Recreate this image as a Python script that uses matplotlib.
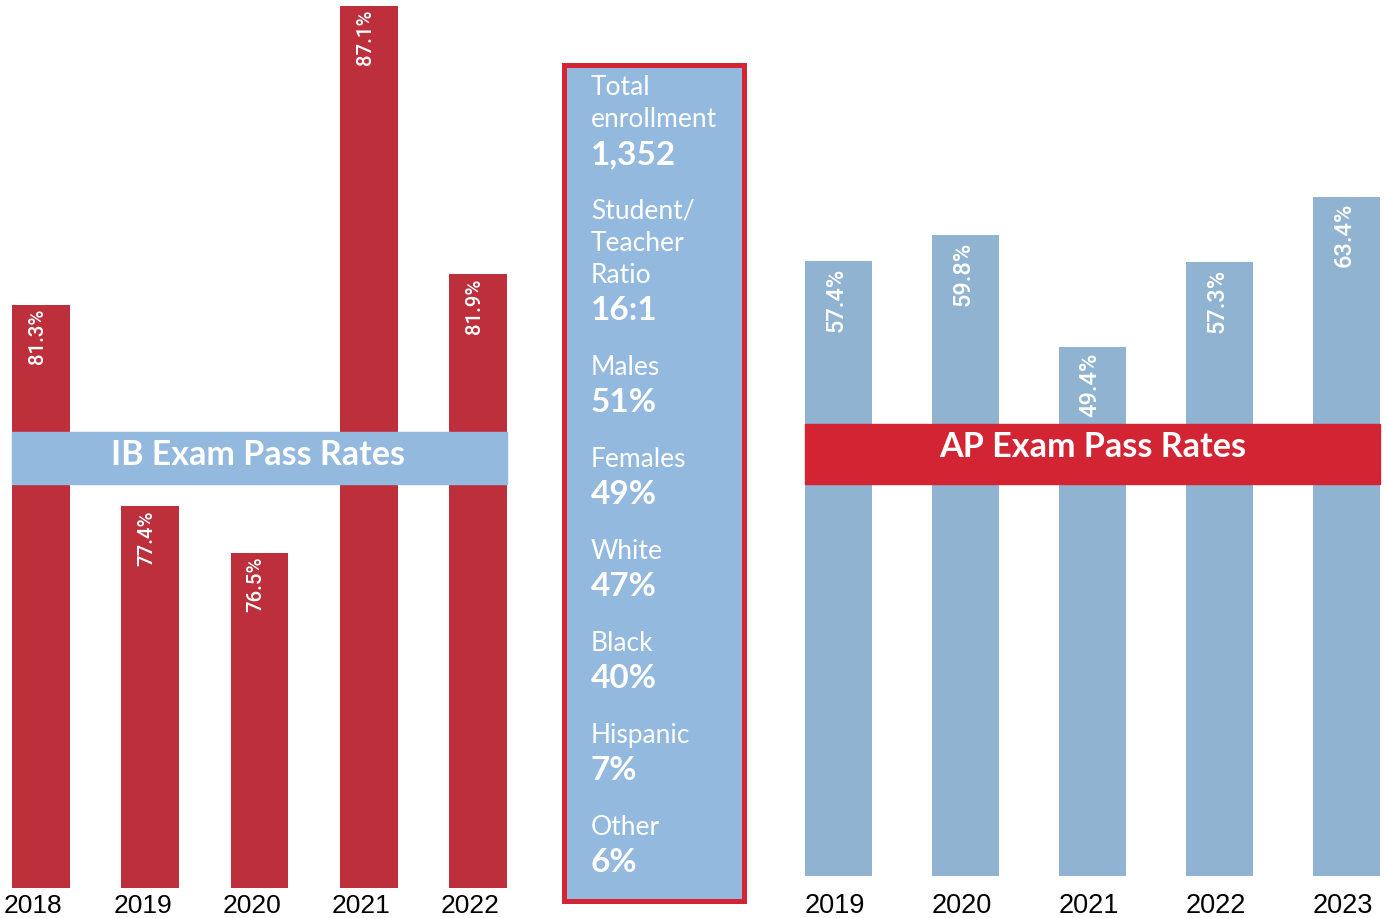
import matplotlib
matplotlib.use("Agg")
import matplotlib.pyplot as plt
from matplotlib.patches import Rectangle

# ---------------- data ----------------
ib_years = ["2018", "2019", "2020", "2021", "2022"]
ib_rates = [81.3, 77.4, 76.5, 87.1, 81.9]
ap_years = ["2019", "2020", "2021", "2022", "2023"]
ap_rates = [57.4, 59.8, 49.4, 57.3, 63.4]
stat_labels = ["Total\nenrollment", "Student/\nTeacher\nRatio", "Males", "Females",
               "White", "Black", "Hispanic", "Other"]
stat_values = ["1,352", "16:1", "51%", "49%", "47%", "40%", "7%", "6%"]

# ---------------- style ----------------
W, H = 1387, 918
IB_RED = "#BE2F3C"
IB_BANNER = "#93B9DE"
AP_BLUE = "#90B3D2"
AP_BANNER = "#D22433"
BOX_FILL = "#93B9DE"
BOX_EDGE = "#D42535"
NUM_FONT = "Liberation Sans"
VAL_FONT = "Roboto"
TXT_FONT = "Lato"

fig = plt.figure(figsize=(W / 100, H / 100), dpi=100)
fig.patch.set_facecolor("white")


def px_axes(l, t, r, b):
    return fig.add_axes([l / W, 1 - b / H, (r - l) / W, (b - t) / H])


def clean(ax):
    for s in ax.spines.values():
        s.set_visible(False)
    ax.set_yticks([])
    ax.tick_params(axis="x", length=0)
    ax.set_facecolor("none")


# ---------------- IB chart ----------------
axL = px_axes(12, 0, 507, 888)
xL = list(range(len(ib_rates)))
axL.bar(xL, ib_rates, width=0.53, color=IB_RED, zorder=2)
axL.set_xlim(-0.265, 4.265)
axL.set_ylim(70, 70 + 888 / 51.6)
clean(axL)
axL.set_xticks([x - 0.07 for x in xL])
axL.set_xticklabels(ib_years, fontsize=19, family=NUM_FONT, color="black")
axL.tick_params(axis="x", pad=4)
for x, v in zip(xL, ib_rates):
    axL.annotate(f"{v:.1f}%", (x - 0.03, v), xytext=(0, -3), textcoords="offset points",
                 rotation=90, ha="center", va="top", color="white",
                 fontsize=14.7, fontweight="medium", family=VAL_FONT, zorder=4)
axL.add_patch(Rectangle((0, (888 - 484) / 888), 1, 52 / 888, transform=axL.transAxes,
                        color=IB_BANNER, zorder=3, clip_on=False))
axL.text(0.497, (888 - 465) / 888, "IB Exam Pass Rates", transform=axL.transAxes,
         ha="center", va="baseline", color="white", fontsize=24.5, fontweight="bold",
         family=TXT_FONT, zorder=4)

# ---------------- AP chart ----------------
axR = px_axes(805, 0, 1380, 876)
xR = list(range(len(ap_rates)))
axR.bar(xR, ap_rates, width=0.53, color=AP_BLUE, zorder=2)
axR.set_xlim(-0.265, 4.265)
axR.set_ylim(0, 876 / 10.713)
clean(axR)
axR.set_xticks([x - 0.03 for x in xR])
axR.set_xticklabels(ap_years, fontsize=19.5, family=NUM_FONT, color="black")
axR.tick_params(axis="x", pad=12)
for x, v in zip(xR, ap_rates):
    axR.annotate(f"{v:.1f}%", (x - 0.02, v), xytext=(0, -4.5), textcoords="offset points",
                 rotation=90, ha="center", va="top", color="white",
                 fontsize=17, fontweight="medium", family=VAL_FONT, zorder=4)
axR.add_patch(Rectangle((0, (876 - 484) / 876), 1, 60 / 876, transform=axR.transAxes,
                        color=AP_BANNER, zorder=3, clip_on=False))
axR.text(0.501, (876 - 457) / 876, "AP Exam Pass Rates", transform=axR.transAxes,
         ha="center", va="baseline", color="white", fontsize=24.6, fontweight="bold",
         family=TXT_FONT, zorder=4)

# ---------------- center stats box ----------------
bl, bt, br, bb = 564, 64.5, 743.5, 900.5
fig.patches.append(Rectangle((bl / W, 1 - bb / H), (br - bl) / W, (bb - bt) / H,
                             transform=fig.transFigure, facecolor=BOX_FILL,
                             edgecolor=BOX_EDGE, linewidth=3.6, zorder=1))
y = 95
tx = 591 / W
for lab, val in zip(stat_labels, stat_values):
    for line in lab.split("\n"):
        fig.text(tx, 1 - y / H, line, ha="left", va="baseline", color="white",
                 fontsize=19, family=TXT_FONT, zorder=3)
        y += 32
    y -= 32
    y += 37
    fig.text(tx, 1 - y / H, val, ha="left", va="baseline", color="white",
             fontsize=24, fontweight="bold", family=TXT_FONT, zorder=3)
    y += 55

fig.savefig("out.png", dpi=100)
